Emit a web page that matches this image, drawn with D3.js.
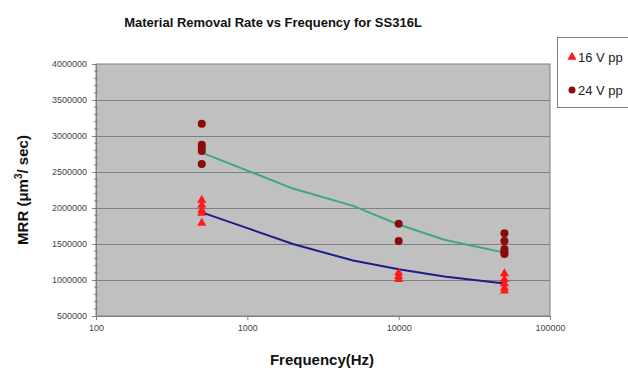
<!DOCTYPE html>
<html><head><meta charset="utf-8">
<script src="https://cdn.jsdelivr.net/npm/d3@7"></script>
<style>body{margin:0;background:#fff}svg{display:block}</style>
</head><body><svg id="c" width="628" height="374"></svg>
<script>
const title = "Material Removal Rate vs Frequency for SS316L";
const xTicks = [100, 1000, 10000, 100000];
const yTicks = [500000, 1000000, 1500000, 2000000, 2500000, 3000000, 3500000, 4000000];
const seriesNames = ["16 V pp", "24 V pp"];
// measured points
const freq16 = [500,500,500,500,500, 10000,10000,10000, 50000,50000,50000,50000,50000];
const mrr16  = [2110000,2040000,1970000,1930000,1790000, 1100000,1050000,1010000, 1090000,1010000,950000,890000,850000];
const freq24 = [500,500,500,500,500, 10000,10000, 50000,50000,50000,50000,50000];
const mrr24  = [3170000,2880000,2840000,2790000,2610000, 1780000,1540000, 1650000,1540000,1430000,1390000,1360000];
// fitted lines
const fitFreq = [500, 1000, 2000, 5000, 10000, 20000, 50000];
const fit16 = [1940000, 1720000, 1500000, 1270000, 1150000, 1050000, 950000];
const fit24 = [2770000, 2520000, 2270000, 2030000, 1770000, 1560000, 1380000];

const svg = d3.select("#c");
const L = 96, R = 550, T = 64, B = 316;
const x = d3.scaleLog().domain([100, 100000]).range([L, R]);
const y = d3.scaleLinear().domain([500000, 4000000]).range([B, T]);
const FONT = "Arial, Liberation Sans, sans-serif";

svg.append("rect").attr("x", L).attr("y", T).attr("width", R - L).attr("height", B - T)
  .attr("fill", "#c0c0c0").attr("stroke", "#808080").attr("stroke-width", 1);

// gridlines
svg.append("g").selectAll("line").data(yTicks.slice(1, -1)).join("line")
  .attr("x1", L).attr("x2", R).attr("y1", d => Math.round(y(d)) + 0.5).attr("y2", d => Math.round(y(d)) + 0.5)
  .attr("stroke", "#808080").attr("stroke-width", 1.2);

// y axis
const yAxis = d3.axisLeft(y).tickValues(yTicks).tickSize(4).tickFormat(d3.format("d"));
const gy = svg.append("g").attr("transform", `translate(${L},0)`).call(yAxis);
gy.select(".domain").attr("stroke", "#808080");
gy.selectAll(".tick line").attr("stroke", "#808080");
gy.selectAll("text").attr("font-family", FONT).attr("font-size", 9).attr("fill", "#444").attr("dx", "-2");
// minor ticks
const minor = d3.range(600000, 4000000, 100000).filter(v => v % 500000 !== 0);
svg.append("g").selectAll("line").data(minor).join("line")
  .attr("x1", L - 2).attr("x2", L + 2).attr("y1", d => y(d)).attr("y2", d => y(d)).attr("stroke", "#808080");

// x axis
const xAxis = d3.axisBottom(x).tickValues(xTicks).tickSize(4).tickFormat(d3.format("d"));
const gx = svg.append("g").attr("transform", `translate(0,${B})`).call(xAxis);
gx.select(".domain").attr("stroke", "#808080");
gx.selectAll(".tick line").attr("stroke", "#808080");
gx.selectAll("text").attr("font-family", FONT).attr("font-size", 9).attr("fill", "#444").attr("dy", "0.9em");

// lines
const line = d3.line().x(d => x(d[0])).y(d => y(d[1]));
svg.append("path").datum(fitFreq.map((f, i) => [f, fit24[i]])).attr("d", line)
  .attr("fill", "none").attr("stroke", "#3fa67e").attr("stroke-width", 2);
svg.append("path").datum(fitFreq.map((f, i) => [f, fit16[i]])).attr("d", line)
  .attr("fill", "none").attr("stroke", "#1c1c8a").attr("stroke-width", 2);

// markers
const tri = d3.symbol().type(d3.symbolTriangle).size(36);
svg.append("g").selectAll("path").data(freq16.map((f, i) => [f, mrr16[i]])).join("path")
  .attr("d", tri).attr("transform", d => `translate(${x(d[0])},${y(d[1])})`).attr("fill", "#ff1a1a");
svg.append("g").selectAll("circle").data(freq24.map((f, i) => [f, mrr24[i]])).join("circle")
  .attr("cx", d => x(d[0])).attr("cy", d => y(d[1])).attr("r", 4).attr("fill", "#8b0a0a");

// title
svg.append("text").attr("x", 273).attr("y", 27).attr("text-anchor", "middle")
  .attr("font-family", FONT).attr("font-weight", "bold").attr("font-size", 13)
  .attr("fill", "#111").text(title);

// axis titles
svg.append("text").attr("x", 322).attr("y", 365).attr("text-anchor", "middle")
  .attr("font-family", FONT).attr("font-weight", "bold").attr("font-size", 15)
  .attr("fill", "#111").text("Frequency(Hz)");
const yl = svg.append("text").attr("transform", "translate(28,190) rotate(-90)").attr("text-anchor", "middle")
  .attr("font-family", FONT).attr("font-weight", "bold").attr("font-size", 15)
  .attr("fill", "#111");
yl.append("tspan").text("MRR (μm");
yl.append("tspan").attr("font-size", 10).attr("dy", -6).text("3");
yl.append("tspan").attr("dy", 6).text("/ sec)");

// legend
const lg = svg.append("g");
lg.append("rect").attr("x", 557.5).attr("y", 37.5).attr("width", 80).attr("height", 70)
  .attr("fill", "#fff").attr("stroke", "#808080");
lg.append("path").attr("d", tri).attr("transform", "translate(572,57)").attr("fill", "#ff1a1a");
lg.append("circle").attr("cx", 572).attr("cy", 90).attr("r", 3.5).attr("fill", "#8b0a0a");
lg.selectAll("text").data(seriesNames).join("text")
  .attr("x", 578).attr("y", (d, i) => i === 0 ? 62 : 95)
  .attr("font-family", FONT).attr("font-size", 13).attr("fill", "#222").text(d => d);
</script></body></html>
